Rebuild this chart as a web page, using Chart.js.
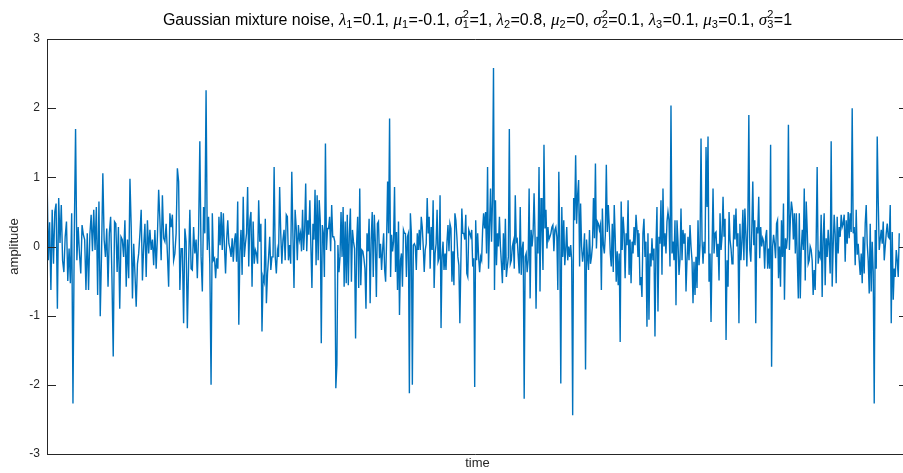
<!DOCTYPE html>
<html>
<head>
<meta charset="utf-8">
<script src="https://cdn.jsdelivr.net/npm/chart.js@4.4.1/dist/chart.umd.min.js"></script>
<style>
  html, body { margin: 0; padding: 0; background: #fff; overflow: hidden; }
  #wrap { width: 903px; height: 473px; }
</style>
</head>
<body>
<div id="wrap"><canvas id="noise" width="903" height="473"></canvas></div>
<script>
// values, one array for each stretch of time (samples 0..1000)
const segStart = [0, 92, 192, 292, 391, 491, 591, 691, 791, 891, 991];
const seg1 = [1.08,-0.2,0.35,-0.63,0.53,-0.25,0.5,0.62,-0.9,0.7,0.05,0.6,-0.2,-0.37,0.14,0.36,-0.5,-0.03,-0.53,0.48,-2.27,0.14,1.7,-0.2,0.28,-0.1,-0.39,0.31,0.17,0.1,-0.63,0.19,-0.63,0.17,0.46,-0.07,0.53,-0.05,0.57,-0.7,0.65,-1.01,-0.1,1.06,0.1,-0.15,0.26,-0.58,0.19,0.43,-0.44,-1.59,0.36,0.33,-0.37,0.28,-0.9,0.14,0.1,-0.15,0.38];
const seg2 = [-0.58,0.1,-0.46,0.98,0.28,-0.75,0.04,-0.39,-0.87,-0.25,-0.1,0.19,0.53,-0.49,0,0.33,-0.44,0.38,-0.1,0.24,-0.05,0.1,-0.27,0.24,-0.32,0.14,0.82,0.38,-0.2,0.74,0.12,0.07,0.33,-0.1,-0.58,0.48,0.28,0.46,-0.2,-0.1,0.19,1.13,0.94,-0.63,-0.03,-0.03,-1.11,0.26,0.07,-1.18,-0.25,0.53,-0.32,-0.34,0.28,-0.1,0.1,-0.46,0.19,1.52,-0.15,-0.65,0.57,0.19,2.26,-0.05,0.43,-0.25,-2.0];
const seg3 = [0.48,-0.2,-0.17,-0.46,-0.17,-0.32,0.43,0.02,0.5,-0.05,0.48,0,-0.39,0.1,0.38,0.04,-0.03,-0.15,0.12,-0.22,0.07,0.19,-0.22,0.65,-1.13,-0.07,0.24,-0.41,0.72,-0.15,0.04,0.19,0.86,-0.29,0.38,0.5,-0.58,0.36,-0.25,-0.05,-0.1,-0.25,0.67,0.07,0.33,-1.23,-0.44,-0.51,0.4,-0.82,-0.39,-0.15,0.14,-0.34,-0.15,-0.15,1.15,-0.15,-0.39,-0.05,-0.15,0.86,0.19,-0.25,0.1,0.24,-0.2,0.46,0.43,-0.2,0.02,-0.25,1.08,0.19,-0.6,0.53,0.28,-0.2];
const seg4 = [0.31,0.1,0.19,-0.07,0.53,-0.05,0.24,0.91,-0.07,0.38,0.17,0.67,0,-0.6,0.33,0.1,0.82,-0.27,0.74,-0.2,0.67,0.38,-1.4,0.31,0.19,-0.44,1.49,-0.05,0.26,0.26,0.43,-0.07,0.6,0.14,0.14,0.07,-2.05,-1.71,0.02,-0.37,-0.15,0.5,-0.15,0.57,-0.58,0.36,-0.53,0.46,-0.56,0.19,0.55,-0.51,0.24,0.07,-0.03,-1.33,0.04,0.43,-0.6,0.84,-0.56,-0.05,-0.07,-0.17,-0.32,-0.9,0.19,-0.07,0.4,-0.82,0.1,0.5,-0.44,0.46,0.07,-0.73,0.33,0.36,-0.17,0.04,-0.34,-0.05];
const seg5 = [0.19,-0.34,-0.51,0.1,0.94,0.19,1.85,-0.44,0.17,-0.07,0.07,0.86,-0.37,0.21,-0.63,0.36,-0.99,-0.2,-0.1,-0.58,0.24,0.19,0.19,-0.44,0.14,0.19,-2.12,0.48,0.19,-2.0,0.02,0.04,0,-0.34,0.19,-0.05,0.24,-0.05,0.43,0.28,0,-0.37,-0.05,0.04,0.7,0.19,0.43,-0.32,0.28,-0.05,0.67,-0.6,-0.1,0.04,0.53,-0.22,-0.17,0.74,-1.18,-0.15,0.07,-0.34,-0.1,-0.34,0.07,0.31,-0.07,0.33,0.26,-0.51,-0.07,-0.56,0.48,0.38,0.14,-0.15,-0.27,-1.11,-0.25,0.55,0.19,0.19,0.1,0.46,-0.39,-0.44,0.24];
const seg6 = [0.19,0.14,0.24,-0.29,-0.17,-2.03,0.38,-0.2,0.19,-0.17,-0.37,-0.15,-0.2,0.24,0.48,0.26,0.5,-0.1,1.15,-0.32,0.28,0.84,0.07,0.67,2.58,-0.63,0.67,-0.27,0.19,0,0.43,0,-0.25,-0.53,0.19,-0.34,0.4,-0.44,-0.29,-0.15,1.7,-0.25,-0.2,0,0.07,-0.32,0.74,0.07,0.1,-0.15,-0.39,0.57,-0.41,-0.03,0.07,-2.2,-0.15,-0.1,-0.37,-0.2,0.84,-0.75,0.24,0,0.19,0.77,0.14,-0.9,0.14,-0.1,1.15,-0.65,0.7,0.28,-0.34,1.47,0.26,0.53,-0.03,0.28,0.1,0.14,0.19,0.28,0.31,-0.07,0.24];
const seg7 = [0.28,0.14,-0.63,1.08,0.07,-1.98,0.57,-0.15,0.38,-0.27,-0.05,0.28,-0.2,0,-0.15,0.02,-0.2,-2.44,0.7,0.38,1.32,0.33,0.74,0.96,-0.29,0.62,0,-0.22,-0.07,0.19,-1.78,0.1,-0.15,-0.34,0.24,-0.25,-0.15,0.02,0.7,0.12,1.2,-0.03,0.36,0.33,0.24,0.31,-0.63,0.55,0.02,-0.1,0.17,1.18,0.21,0.6,0.28,-0.1,-0.29,0.33,-0.37,0.6,0.12,-0.51,-0.07,-0.56,-0.1,-1.38,0.65,-0.05,0.43,0.19,-0.46,0.19,0.02,0.67,-0.41,0.1,-0.53,0.07,-0.1,0.28,0.02,0.46,0.24,-0.15,0.19,-0.56,-0.44];
const seg8 = [-0.73,0.19,0.4,-0.15,0.07,-1.16,0.19,-1.06,-0.1,-0.29,0.12,-0.2,-0.03,-1.3,0,0.57,-0.94,0.14,0.04,0.67,-0.41,0.84,0,0.19,-0.1,0.36,0.5,0.38,-0.29,2.04,-0.1,0.07,-0.2,0.38,-0.85,0.38,0.07,-0.41,-0.2,0.55,-0.2,0.24,0.04,0.19,-0.65,-0.2,0.14,-0.2,0.31,0,-0.2,-0.82,-0.22,-0.7,-0.15,-0.6,0.38,-0.27,0.02,1.56,0.1,-0.25,0.07,-0.1,1.44,0.57,1.59,-0.51,-0.1,-1.09,-0.07,0.84,-0.1,0.19,0.21,-0.15,0.04,-0.49,0.48,-0.05,0.14,0.72,0.14,0.4,-1.35,-0.2];
const seg9 = [-0.58,0.5,0.1,-0.03,-0.25,-0.2,0.46,0.1,0.55,0,0.19,-1.11,0.33,-0.2,0.07,0.53,-0.2,0.55,0.19,-0.29,0.33,1.9,-0.05,-0.22,0.24,0.94,0.02,0.38,-1.11,0.28,0.19,0.72,-0.17,0.28,0,0.12,0.07,-0.32,0.14,0.24,-0.32,-0.03,-0.32,1.47,-1.74,0,0.17,0.04,-0.17,0.33,0.38,-0.46,0,-0.58,0.38,-0.15,0.62,-0.77,0.12,-0.03,0.14,1.76,-0.05,0.4,0.65,0.53,0.1,0.48,-0.1,0.48,-0.2,-0.75,0.48,-0.75,-0.03,0.24,-0.05,0.84,-0.49,0.65,0.24,-0.25,-0.2,0,-0.05,-0.2,-0.7];
const seg10 = [-0.34,-0.63,0.07,1.15,-0.25,-0.1,-0.15,0.46,-0.73,0.14,0.48,-0.56,0.12,-0.15,0.24,0,-0.39,1.52,-0.58,0,0.46,0.17,-0.53,0.43,-0.1,0.28,0.14,0.46,0.28,0.33,0.46,-0.22,0.38,0.04,0.5,0.12,0.48,0.21,2.0,0.19,0.28,-0.27,0.53,-0.12,0.04,-0.2,-0.41,-0.1,-0.53,0.14,-0.39,0.33,0.6,0.04,-0.2,-0.68,0.33,-0.65,0.07,-0.37,-2.27,0.24,-0.32,1.59,0.67,-0.05,0.1,0.24,0.04,0.36,-0.2,0,0.19,0.33,0.14,0.12,0.6,-1.11,0.21,-0.77,-0.32,-0.44,-0.05,-0.2,-0.44,0.19];
const segments = [seg1, seg2, seg3, seg4, seg5, seg6, seg7, seg8, seg9, seg10];

const yTickValues = [-3, -2, -1, 0, 1, 2, 3];
// title pieces: [text, kind]  kind: txt | gr (greek) | sub | supsub ("sup|sub")
const titleParts = [
  ["Gaussian mixture noise, ", "txt"],
  ["λ", "gr"], ["1", "sub"], ["=0.1, ", "txt"],
  ["μ", "gr"], ["1", "sub"], ["=-0.1, ", "txt"],
  ["σ", "gr"], ["2|1", "supsub"], ["=1, ", "txt"],
  ["λ", "gr"], ["2", "sub"], ["=0.8, ", "txt"],
  ["μ", "gr"], ["2", "sub"], ["=0, ", "txt"],
  ["σ", "gr"], ["2|2", "supsub"], ["=0.1, ", "txt"],
  ["λ", "gr"], ["3", "sub"], ["=0.1, ", "txt"],
  ["μ", "gr"], ["3", "sub"], ["=0.1, ", "txt"],
  ["σ", "gr"], ["2|3", "supsub"], ["=1", "txt"]
];

// spread each stretch evenly over its time span
let points = [];
for (let k = 0; k < segments.length; k++) {
  let s = segments[k];
  let step = (segStart[k + 1] - segStart[k]) / s.length;
  for (let j = 0; j < s.length; j++) {
    points.push({ x: segStart[k] + j * step, y: s[j] });
  }
}

const axisColor = "#262626";
const sans = '"Liberation Sans", Arial, Helvetica, sans-serif';

const fontFor = {
  txt: "16px " + sans,
  gr: 'italic 17px "Liberation Serif", "DejaVu Serif", serif',
  small: "11px " + sans
};

// the box's right edge sits a few pixels past the picture in the source
const widenPlugin = {
  id: "widen",
  afterLayout(chart) {
    const a = chart.chartArea;
    const xs = chart.scales.x;
    a.right = 908;
    a.width = a.right - a.left;
    xs.right = 908;
    xs.width = xs.right - xs.left;
    xs.configure();
  }
};

// axes lines and inward tick marks, like matlab
const boxPlugin = {
  id: "box",
  afterDatasetsDraw(chart) {
    const {ctx, chartArea: a, scales} = chart;
    const l = a.left + 0.5, t = a.top + 0.5, b = a.bottom + 0.5;
    ctx.save();
    ctx.strokeStyle = axisColor;
    ctx.lineWidth = 1;
    ctx.beginPath();
    ctx.moveTo(a.right, t);
    ctx.lineTo(l, t);
    ctx.lineTo(l, b);
    ctx.lineTo(a.right, b);
    for (let v of yTickValues) {
      let y = Math.round(scales.y.getPixelForValue(v)) + 0.5;
      ctx.moveTo(a.left, y);
      ctx.lineTo(a.left + 9, y);
      ctx.moveTo(a.right, y);
      ctx.lineTo(a.right - 9, y);
    }
    ctx.stroke();
    ctx.restore();
  }
};

// title with sub and superscripts
const titlePlugin = {
  id: "richTitle",
  afterDraw(chart) {
    const ctx = chart.ctx;
    const a = chart.chartArea;
    ctx.save();
    ctx.fillStyle = "#000";
    ctx.textBaseline = "alphabetic";
    let widths = [];
    let total = 0;
    for (let p of titleParts) {
      let w;
      if (p[1] == "txt" || p[1] == "gr") {
        ctx.font = fontFor[p[1]];
        w = ctx.measureText(p[0]).width;
      } else {
        ctx.font = fontFor.small;
        let bits = p[0].split("|");
        w = Math.max(...bits.map(b => ctx.measureText(b).width)) + 0.5;
      }
      widths.push(w);
      total += w;
    }
    let x = (a.left + a.right) / 2 - total / 2;
    const base = 25;
    for (let i = 0; i < titleParts.length; i++) {
      let p = titleParts[i];
      if (p[1] == "txt" || p[1] == "gr") {
        ctx.font = fontFor[p[1]];
        ctx.fillText(p[0], x, base);
      } else if (p[1] == "sub") {
        ctx.font = fontFor.small;
        ctx.fillText(p[0], x, base + 3);
      } else {
        ctx.font = fontFor.small;
        let bits = p[0].split("|");
        ctx.fillText(bits[0], x, base - 7);
        ctx.fillText(bits[1], x, base + 3);
      }
      x += widths[i];
    }
    ctx.restore();
  }
};

new Chart(document.getElementById("noise"), {
  type: "line",
  data: {
    datasets: [{
      data: points,
      borderColor: "#0072BD",
      borderWidth: 1.4,
      pointRadius: 0,
      tension: 0,
      fill: false
    }]
  },
  options: {
    responsive: false,
    animation: false,
    layout: { padding: { top: 39, right: 0, left: 0, bottom: 0 } },
    plugins: {
      legend: { display: false },
      tooltip: { enabled: false },
      title: { display: false }
    },
    scales: {
      x: {
        type: "linear",
        min: 0,
        max: 1000,
        grid: { display: false },
        border: { display: false },
        ticks: { display: false },
        title: {
          display: true,
          text: "time",
          color: axisColor,
          font: { family: sans, size: 13 },
          padding: { top: 0, bottom: 2 }
        },
        afterFit: function(scale) { scale.height = 19; }
      },
      y: {
        min: -3,
        max: 3,
        afterBuildTicks: function(scale) {
          scale.ticks = yTickValues.map(v => ({ value: v }));
        },
        ticks: { color: axisColor, font: { family: sans, size: 12 }, padding: 7 },
        grid: { display: false, drawTicks: false },
        border: { display: false },
        title: {
          display: true,
          text: "amplitude",
          color: axisColor,
          font: { family: sans, size: 13 },
          padding: { top: 7, bottom: 0 }
        },
        afterFit: function(scale) { scale.width = 47; }
      }
    }
  },
  plugins: [widenPlugin, boxPlugin, titlePlugin]
});
</script>
</body>
</html>
